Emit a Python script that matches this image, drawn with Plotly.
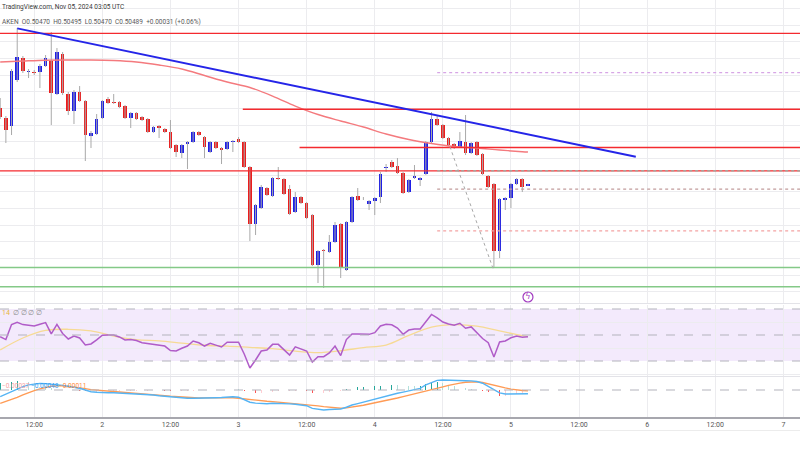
import plotly.graph_objects as go
import pandas as pd

# ---------------- data ----------------
start = pd.Timestamp("2024-11-01 06:00")
times = pd.date_range(start, periods=94, freq="h")

opens = [0.51404, 0.51284, 0.51188, 0.51740, 0.52004, 0.51836, 0.51836, 0.51836, 0.51908, 0.51968,
         0.51572, 0.52052, 0.51572, 0.51368, 0.51596, 0.51488, 0.51068, 0.51092, 0.51284, 0.51512,
         0.51476, 0.51476, 0.51428, 0.51284, 0.51344, 0.51296, 0.51272, 0.51116, 0.51188, 0.51152,
         0.51116, 0.50960, 0.50864, 0.50972, 0.50996, 0.51116, 0.51056, 0.50876, 0.50996, 0.50924,
         0.50912, 0.50996, 0.51032, 0.50996, 0.50696, 0.50012, 0.50204, 0.50444, 0.50348, 0.50564,
         0.50552, 0.50432, 0.50156, 0.50336, 0.50264, 0.50120, 0.49520, 0.49700, 0.49676, 0.49796,
         0.50012, 0.49460, 0.50036, 0.50348, 0.50312, 0.50252, 0.50288, 0.50336, 0.50684, 0.50756,
         0.50708, 0.50624, 0.50396, 0.50564, 0.50540, 0.50612, 0.50996, 0.51272, 0.51200, 0.51044,
         0.50972, 0.50936, 0.50996, 0.50864, 0.50996, 0.50852, 0.50588, 0.50492, 0.49688, 0.50300,
         0.50324, 0.50492, 0.50552, 0.50470]
highs = [0.51524, 0.51308, 0.51872, 0.52364, 0.52028, 0.51872, 0.51860, 0.51932, 0.52040, 0.52316,
         0.52124, 0.52076, 0.51596, 0.51620, 0.51668, 0.51500, 0.51128, 0.51332, 0.51500, 0.51536,
         0.51572, 0.51488, 0.51440, 0.51356, 0.51356, 0.51308, 0.51284, 0.51188, 0.51200, 0.51164,
         0.51260, 0.50972, 0.50972, 0.51008, 0.51128, 0.51128, 0.51068, 0.51008, 0.51008, 0.50936,
         0.51008, 0.51020, 0.51056, 0.51008, 0.50708, 0.50252, 0.50480, 0.50456, 0.50576, 0.50696,
         0.50564, 0.50480, 0.50396, 0.50348, 0.50276, 0.50132, 0.49700, 0.49712, 0.49880, 0.50036,
         0.50024, 0.50048, 0.50348, 0.50444, 0.50336, 0.50300, 0.50336, 0.50636, 0.50732, 0.50780,
         0.50804, 0.50636, 0.50552, 0.50720, 0.50576, 0.51008, 0.51356, 0.51320, 0.51212, 0.51056,
         0.50984, 0.51116, 0.51320, 0.50996, 0.51008, 0.50864, 0.50600, 0.50504, 0.50324, 0.50336,
         0.50504, 0.50564, 0.50564, 0.50495]
lows = [0.51272, 0.50984, 0.51080, 0.51716, 0.51824, 0.51764, 0.51800, 0.51644, 0.51896, 0.51200,
        0.51560, 0.51560, 0.51320, 0.51212, 0.51476, 0.50768, 0.50924, 0.51080, 0.51272, 0.51452,
        0.51452, 0.51404, 0.51272, 0.51164, 0.51260, 0.51248, 0.51104, 0.51104, 0.51044, 0.51104,
        0.50912, 0.50816, 0.50804, 0.50672, 0.50984, 0.51068, 0.50804, 0.50864, 0.50912, 0.50732,
        0.50900, 0.50876, 0.50984, 0.50684, 0.49808, 0.49880, 0.50192, 0.50348, 0.50336, 0.50540,
        0.50360, 0.50120, 0.50144, 0.50252, 0.50072, 0.49508, 0.49304, 0.49244, 0.49664, 0.49784,
        0.49364, 0.49448, 0.50024, 0.50288, 0.50300, 0.50180, 0.50120, 0.50264, 0.50636, 0.50684,
        0.50612, 0.50372, 0.50384, 0.50552, 0.50468, 0.50600, 0.50984, 0.51188, 0.51032, 0.50948,
        0.50912, 0.50924, 0.50840, 0.50852, 0.50828, 0.50600, 0.50444, 0.49496, 0.49604, 0.50180,
        0.50204, 0.50480, 0.50396, 0.50470]
closes = [0.51296, 0.51140, 0.51848, 0.52016, 0.51848, 0.51848, 0.51824, 0.51908, 0.52004, 0.51584,
          0.52076, 0.51584, 0.51368, 0.51596, 0.51488, 0.51080, 0.51104, 0.51272, 0.51488, 0.51464,
          0.51464, 0.51416, 0.51284, 0.51344, 0.51272, 0.51260, 0.51116, 0.51176, 0.51164, 0.51116,
          0.50924, 0.50876, 0.50960, 0.50996, 0.51116, 0.51080, 0.50936, 0.50996, 0.50924, 0.50900,
          0.50996, 0.51008, 0.50996, 0.50696, 0.50012, 0.50240, 0.50456, 0.50360, 0.50564, 0.50552,
          0.50372, 0.50132, 0.50336, 0.50264, 0.50084, 0.49520, 0.49688, 0.49688, 0.49796, 0.50000,
          0.49484, 0.50036, 0.50336, 0.50300, 0.50318, 0.50288, 0.50324, 0.50612, 0.50696, 0.50696,
          0.50624, 0.50384, 0.50540, 0.50588, 0.50564, 0.50996, 0.51272, 0.51200, 0.51044, 0.50960,
          0.50924, 0.51008, 0.50864, 0.50984, 0.50840, 0.50612, 0.50456, 0.49688, 0.50312, 0.50324,
          0.50492, 0.50552, 0.50458, 0.50489]

# moving average on price (sampled every 4 bars)
ma_idx = [0, 4, 8, 12, 16, 20, 24, 28, 32, 36, 40, 44, 48, 52, 56, 60, 64, 68, 72, 76, 80, 84, 88, 92, 93]
ma_vals = [0.51956, 0.51968, 0.51978, 0.51980, 0.51980, 0.51974, 0.51956, 0.51920, 0.51872, 0.51794,
           0.51716, 0.51650, 0.51548, 0.51428, 0.51326, 0.51248, 0.51176, 0.51092, 0.51026, 0.50978,
           0.50942, 0.50924, 0.50900, 0.50880, 0.50876]

# drawn levels
res_full = [0.5230, 0.5065]
res_part_start = ["2024-11-03 00:45", "2024-11-03 10:45"]
res_part = [0.5139, 0.5093]
sup_levels = [0.4949, 0.4926]
trend_t = ["2024-11-01 09:00", "2024-11-05 22:00"]
trend_p = [0.5236, 0.5082]
fib_start = "2024-11-04 11:00"
fib_levels = [0.5183, 0.5065, 0.5043, 0.4993]
fib_colors = ["#D7A6E6", "#93B9AE", "#C29C9C", "#F4A3A3"]
fib_diag_t = ["2024-11-04 13:15", "2024-11-04 20:50"]
fib_diag_p = [0.5094, 0.4948]

# RSI (14) and its MA
rsi = [48.7, 46.5, 58.0, 59.8, 58.0, 57.3, 56.9, 58.2, 59.5, 50.8,
       58.2, 51.2, 46.9, 49.2, 47.7, 42.3, 43.1, 46.2, 49.8, 50.0,
       50.0, 48.5, 46.2, 46.5, 45.8, 44.1, 43.5, 42.7, 42.1, 41.5,
       38.1, 37.7, 39.8, 41.5, 45.4, 44.0, 41.5, 43.6, 42.2, 40.8,
       44.4, 44.6, 44.4, 35.4, 24.6, 30.8, 37.7, 38.5, 42.8, 42.8,
       38.8, 34.6, 40.9, 39.4, 37.7, 29.2, 33.3, 33.3, 36.2, 41.5,
       34.2, 46.5, 50.8, 50.8, 50.6, 50.5, 51.8, 56.9, 58.2, 57.9,
       55.4, 50.5, 53.8, 54.6, 54.6, 60.4, 65.8, 63.1, 60.0, 58.5,
       57.5, 59.0, 55.2, 56.2, 51.5, 47.3, 44.1, 33.1, 44.6, 45.4,
       47.9, 49.2, 48.2, 48.7]
rsi_ma_idx = [0, 4, 8, 12, 16, 20, 24, 28, 32, 36, 40, 44, 48, 52, 56, 60, 64, 68, 72, 76, 80, 84, 88, 92, 93]
rsi_ma = [38.5, 47.7, 53.5, 54.4, 53.1, 49.2, 46.5, 45.5, 43.8, 42.1, 41.5, 40.5, 39.5, 37.6, 36.4,
          37.9, 40.3, 42.3, 49.7, 56.0, 58.0, 56.8, 53.1, 49.5, 48.8]

# MACD (units of 1e-4)
macd_e4 = [-8.7, -5.2, -1.6, 1.7, 4.4, 6.6, 7.8, 8.6, 8.3, 7.7,
           6.9, 6.0, 4.8, 3.5, 2.3, 0.0, -2.3, -3.0, -3.5, -3.5,
           -3.5, -3.9, -4.2, -4.6, -4.9, -5.3, -6.0, -6.5, -7.5, -8.3,
           -9.2, -10.1, -10.8, -10.8, -10.8, -10.8, -10.7, -10.4, -10.1, -9.8,
           -9.4, -8.7, -9.4, -12.4, -15.9, -17.0, -17.7, -17.9, -17.3, -17.3,
           -17.7, -18.1, -18.6, -19.1, -20.4, -23.9, -25.2, -26.0, -25.4, -25.0,
           -24.7, -22.4, -19.5, -17.7, -15.7, -13.9, -12.0, -10.1, -7.9, -5.6,
           -4.2, -2.7, -1.3, 0.0, 2.1, 6.6, 10.0, 12.5, 13.0, 13.0,
           12.9, 12.5, 12.1, 11.8, 11.1, 8.8, 4.8, 0.3, -3.8, -5.2,
           -4.9, -4.7, -4.6, -4.8]
signal_e4 = [-17.3, -15.0, -12.4, -9.5, -6.4, -3.4, -0.8, 1.4, 3.6, 4.8,
             5.3, 5.5, 4.6, 3.8, 3.1, 1.8, 0.5, -0.3, -0.9, -1.6,
             -2.1, -2.6, -3.1, -3.6, -4.0, -4.4, -5.2, -6.1, -6.8, -7.4,
             -8.1, -8.7, -9.5, -9.8, -10.0, -10.4, -10.3, -10.1, -10.0, -10.0,
             -10.0, -10.0, -10.7, -11.6, -12.5, -13.4, -14.2, -14.7, -15.1, -15.7,
             -16.3, -16.8, -17.6, -18.2, -18.7, -19.6, -20.7, -21.6, -22.5, -23.1,
             -23.8, -23.3, -22.4, -21.1, -19.8, -18.2, -16.8, -15.2, -13.8, -12.1,
             -10.4, -8.6, -6.9, -5.3, -3.6, -1.7, 0.3, 2.1, 4.0, 6.1,
             7.8, 9.0, 10.1, 10.7, 10.8, 9.8, 7.8, 6.1, 4.6, 2.7,
             1.2, 0.0, -0.7, -1.1]

tick_times = pd.date_range("2024-11-01 12:00", "2024-11-07 00:00", freq="12h")
tick_text = ["12:00" if t.hour == 12 else str(t.day) for t in tick_times]

X_RANGE = ["2024-11-01 05:58", "2024-11-07 02:56"]
FAR_LEFT, FAR_RIGHT = "2024-10-31 00:00", "2024-11-08 00:00"

# ---------------- styles ----------------
UP, DOWN = "#1E1EE6", "#EC1C1C"
WICK = "#A9A9A9"
GRID = "#ECECEF"
FONT = "Roboto"

fig = go.Figure()

# ---- price pane ----
wx, wy = [], []
for t, h, l in zip(times, highs, lows):
    wx += [t, t, None]
    wy += [l, h, None]
fig.add_trace(go.Scatter(x=wx, y=wy, mode="lines", line=dict(color=WICK, width=1),
                         xaxis="x", yaxis="y", hoverinfo="skip"))

base = [min(o, c) for o, c in zip(opens, closes)]
body = [abs(c - o) for o, c in zip(opens, closes)]
bcol = [UP if c >= o else DOWN for o, c in zip(opens, closes)]
fig.add_trace(go.Bar(x=times, y=body, base=base, width=2.3e6,
                     marker=dict(color=bcol, line=dict(width=0)), xaxis="x", yaxis="y"))

# moving average
fig.add_trace(go.Scatter(x=[times[i] for i in ma_idx], y=ma_vals, mode="lines",
                         line=dict(color="#F47A7E", width=1.4, shape="spline"), xaxis="x", yaxis="y"))

# horizontal levels
for lv in res_full:
    fig.add_trace(go.Scatter(x=[FAR_LEFT, FAR_RIGHT], y=[lv, lv], mode="lines",
                             line=dict(color="#F42A2F", width=1.4), xaxis="x", yaxis="y"))
for st, lv in zip(res_part_start, res_part):
    fig.add_trace(go.Scatter(x=[st, FAR_RIGHT], y=[lv, lv], mode="lines",
                             line=dict(color="#F42A2F", width=1.4), xaxis="x", yaxis="y"))
for lv in sup_levels:
    fig.add_trace(go.Scatter(x=[FAR_LEFT, FAR_RIGHT], y=[lv, lv], mode="lines",
                             line=dict(color="#84C987", width=1.4), xaxis="x", yaxis="y"))
for lv, c in zip(fib_levels, fib_colors):
    fig.add_trace(go.Scatter(x=[fib_start, FAR_RIGHT], y=[lv, lv], mode="lines",
                             line=dict(color=c, width=1.2, dash="dot"), xaxis="x", yaxis="y"))
fig.add_trace(go.Scatter(x=fib_diag_t, y=fib_diag_p, mode="lines",
                         line=dict(color="#A8A8A8", width=1, dash="dot"), xaxis="x", yaxis="y"))

# trend line
fig.add_trace(go.Scatter(x=trend_t, y=trend_p, mode="lines",
                         line=dict(color="#2525E8", width=2), xaxis="x", yaxis="y"))

# price y range (0.00012 per px)
P_TOP = 0.527004
P_BOT = P_TOP - 303 * 0.00012

# event marker under last bar
ev_y = P_BOT + 6 * 0.00012
fig.add_trace(go.Scatter(x=[times[-1]], y=[ev_y], mode="markers+text", text=["ϟ"],
                         textposition="middle center",
                         textfont=dict(color="#A23CC0", size=8, family="DejaVu Sans"),
                         marker=dict(symbol="circle-open", size=10, color="#A23CC0", line=dict(width=1.2)),
                         xaxis="x", yaxis="y"))

# ---- RSI pane ----
fig.add_trace(go.Scatter(x=[times[i] for i in rsi_ma_idx], y=rsi_ma, mode="lines",
                         line=dict(color="#F6DA94", width=1.3, shape="spline"), xaxis="x2", yaxis="y2"))
fig.add_trace(go.Scatter(x=times, y=rsi, mode="lines",
                         line=dict(color="#B05CC8", width=1.5), xaxis="x2", yaxis="y2"))

# ---- MACD pane ----
macd = [v * 1e-4 for v in macd_e4]
sig = [v * 1e-4 for v in signal_e4]
hist = [m - s for m, s in zip(macd, sig)]
hcol = []
for i, h in enumerate(hist):
    prev = hist[i - 1] if i > 0 else h
    if h >= 0:
        hcol.append("#26A69A" if h >= prev else "#B2DFDB")
    else:
        hcol.append("#FF5252" if h < prev else "#FFCDD2")
fig.add_trace(go.Bar(x=times, y=hist, width=4.5e5, marker=dict(color=hcol, line=dict(width=0)),
                     xaxis="x3", yaxis="y3"))
fig.add_trace(go.Scatter(x=times, y=sig, mode="lines", line=dict(color="#FF9B55", width=1.4),
                         xaxis="x3", yaxis="y3"))
fig.add_trace(go.Scatter(x=times, y=macd, mode="lines", line=dict(color="#55B4F4", width=1.4),
                         xaxis="x3", yaxis="y3"))

# ---------------- layout ----------------
def px(y):
    return 1 - y / 450.0

xcommon = dict(type="date", tickvals=list(tick_times), ticktext=tick_text, showgrid=True,
               gridcolor=GRID, gridwidth=1, zeroline=False, ticks="", fixedrange=True)

shapes = [
    # RSI band
    dict(type="rect", xref="x2 domain", yref="y2", x0=0, x1=1, y0=30, y1=70,
         fillcolor="rgba(160, 90, 235, 0.13)", line=dict(width=0), layer="below"),
]
for lv in [70, 50, 30]:
    shapes.append(dict(type="line", xref="x2 domain", yref="y2", x0=0, x1=1, y0=lv, y1=lv,
                       line=dict(color="#B3B3BC", width=1, dash="dash")))
shapes.append(dict(type="line", xref="x3 domain", yref="y3", x0=0, x1=1, y0=0, y1=0,
                   line=dict(color="#B3B3BC", width=1, dash="dash")))
for yy in [303.5, 376.5]:
    shapes.append(dict(type="line", xref="paper", yref="paper", x0=0, x1=1, y0=px(yy), y1=px(yy),
                       line=dict(color="#E3E3E8", width=1)))
shapes.append(dict(type="line", xref="paper", yref="paper", x0=0, x1=1, y0=px(430.5), y1=px(430.5),
                   line=dict(color="#ECECEC", width=1)))

chg = closes[-1] - closes[-2]
pct = chg / closes[-2] * 100
hdr2 = (f"AKEN  O{opens[-1]:.5f}  H{highs[-1]:.5f}  L{lows[-1]:.5f}  C{closes[-1]:.5f}"
        f"  +{chg:.5f} (+{pct:.2f}%)")
hist_last = hist[-1]
annotations = [
    dict(text="TradingView.com, Nov 05, 2024 03:05 UTC", x=0, y=px(7), xref="paper", yref="paper",
         xanchor="left", yanchor="middle", showarrow=False, font=dict(family=FONT, size=6.5, color="#3A3A3A")),
    dict(text=hdr2, x=0, y=px(22), xref="paper", yref="paper",
         xanchor="left", yanchor="middle", showarrow=False, font=dict(family=FONT, size=6.5, color="#5A5A5A")),
    dict(text="14", x=0, y=px(313), xref="paper", yref="paper", xanchor="left", yanchor="middle",
         showarrow=False, font=dict(family=FONT, size=7, color="#E7B73E")),
    dict(text="∅ ∅ ∅ ∅", x=11 / 800, y=px(313), xref="paper", yref="paper", xanchor="left", yanchor="middle",
         showarrow=False, font=dict(family=FONT, size=7, color="#8A8A8A")),
    dict(text=f"−{abs(hist_last):.5f}", x=0, y=px(386), xref="paper", yref="paper",
         xanchor="left", yanchor="middle", showarrow=False, font=dict(family=FONT, size=6.5, color="#F6A2A2")),
    dict(text=f"−{abs(macd[-1]):.5f}", x=29 / 800, y=px(386), xref="paper", yref="paper",
         xanchor="left", yanchor="middle", showarrow=False, font=dict(family=FONT, size=6.5, color="#2E9BF0")),
    dict(text=f"−{abs(sig[-1]):.5f}", x=57 / 800, y=px(386), xref="paper", yref="paper",
         xanchor="left", yanchor="middle", showarrow=False, font=dict(family=FONT, size=6.5, color="#FF8A3D")),
]

fig.update_layout(
    width=800, height=450, margin=dict(l=0, r=0, t=0, b=0),
    paper_bgcolor="white", plot_bgcolor="white", showlegend=False, bargap=0,
    font=dict(family=FONT),
    xaxis=dict(xcommon, domain=[0, 1], anchor="y", range=X_RANGE, showticklabels=False),
    xaxis2=dict(xcommon, domain=[0, 1], anchor="y2", matches="x", showticklabels=False),
    xaxis3=dict(xcommon, domain=[0, 1], anchor="y3", matches="x", showticklabels=True,
                tickfont=dict(family=FONT, size=7, color="#555555"),
                showline=True, linecolor="#A7A7AE", linewidth=1.5),
    yaxis=dict(domain=[px(303), 1], range=[P_BOT, P_TOP], dtick=0.002, tick0=0, showticklabels=False,
               showgrid=True, gridcolor=GRID, zeroline=False, fixedrange=True),
    yaxis2=dict(domain=[px(376), px(305)], range=[18.46, 73.08], tickvals=[20, 40, 60],
                showticklabels=False, showgrid=True, gridcolor=GRID, zeroline=False, fixedrange=True),
    yaxis3=dict(domain=[px(417), px(377)], range=[-0.00351, 0.00169], showticklabels=False,
                showgrid=False, zeroline=False, fixedrange=True),
    shapes=shapes, annotations=annotations,
)

fig.write_html("out.html", config={"displayModeBar": False, "staticPlot": True},
               post_script="document.body.style.margin='0';document.body.style.overflow='hidden';")
